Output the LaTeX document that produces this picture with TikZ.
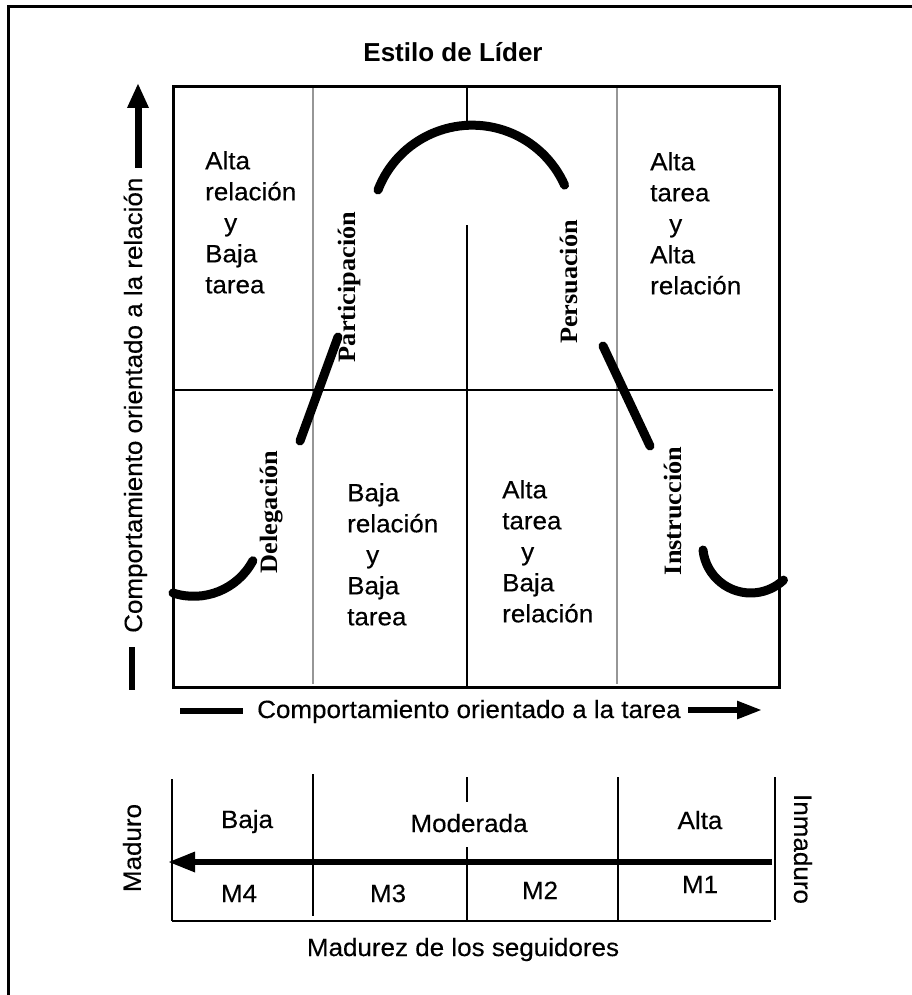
\documentclass[tikz,border=0pt]{standalone}
\usepackage{fontspec}
\usetikzlibrary{arrows.meta}
\newfontfamily\bodyfont[FakeStretch=1.04,FakeBold=0.3]{Liberation Sans}
\newfontfamily\headfont{Liberation Sans}
\newfontfamily\labfont[FakeStretch=1.05]{Liberation Serif}
\tikzset{
  frame/.style={line width=3pt},
  boxline/.style={line width=3pt},
  gridline/.style={line width=2pt},
  grayline/.style={line width=2pt, draw={rgb,255:red,150;green,150;blue,150}},
  curve/.style={line width=9pt, line cap=round},
  axisline/.style={line width=5.5pt},
  body/.style={font=\bodyfont\fontsize{25}{31}\selectfont, inner sep=0pt},
  cell/.style={body, align=left, anchor=north west},
  stylelab/.style={font=\labfont\bfseries\fontsize{25}{28}\selectfont, inner sep=0pt, rotate=90},
}
\begin{document}
\begin{tikzpicture}[x=1pt,y=-1pt]
\useasboundingbox (0,0) rectangle (912,995);
% outer frame
\draw[frame] (912,7) -- (8,7) -- (8,995);
% title
\node[font=\headfont\bfseries\fontsize{26}{30}\selectfont, inner sep=0pt, anchor=base] (title) at (453,62) {Estilo de Líder};
% main grid
\draw[grayline] (313,87) -- (313,684);
\draw[grayline] (617,87) -- (617,684);
\draw[gridline] (467,87) -- (467,125);
\draw[gridline] (467,225) -- (467,687);
\draw[gridline] (172,390) -- (773,390);
\draw[boxline] (173,87) rectangle (779,687);
% cell texts
\node[cell] (tl) at (205,151) {Alta\\relación\\\hspace*{19pt}y\\Baja\\tarea};
\node[cell] (tr) at (650,152) {Alta\\tarea\\\hspace*{19pt}y\\Alta\\relación};
\node[cell] (bl) at (347,483) {Baja\\relación\\\hspace*{19pt}y\\Baja\\tarea};
\node[cell] (br) at (502,480) {Alta\\tarea\\\hspace*{19pt}y\\Baja\\relación};
% style labels
\node[stylelab] (part) at (349,287) {Participación};
\node[stylelab] (pers) at (569,282) {Persuación};
\node[stylelab] (dele) at (272,512) {Delegación};
\node[stylelab] (inst) at (673,511) {Instrucción};
% curve pieces
\draw[curve] (173,593) arc[start angle=108, end angle=28, radius=67];
\draw[curve] (300,441) -- (338,337);
\draw[curve] (378,190) arc[start angle=201, end angle=336, radius=101];
\draw[curve] (603,346) -- (650,446);
\draw[curve] (703,550) arc[start angle=174, end angle=47, radius=48];
% vertical axis
\node[body, rotate=90, anchor=base west] (yax) at (142,633) {Comportamiento orientado a la relación};
\coordinate (ytip) at (138,83);
\coordinate (ystart) at (138,168);
\draw[line width=7pt, -{Triangle[length=25pt,width=20pt]}] (ystart) -- (ytip);
\coordinate (yd1) at (132,647);
\coordinate (yd2) at (132,690);
\draw[axisline] (yd1) -- (yd2);
% horizontal axis
\node[body, anchor=base west] (xax) at (257,718) {Comportamiento orientado a la tarea};
\coordinate (xd1) at (180,711);
\coordinate (xd2) at (243,711);
\draw[axisline] (xd1) -- (xd2);
\coordinate (xstart) at (688,710);
\coordinate (xtip) at (762,710);
\draw[axisline, -{Triangle[length=25pt,width=17pt]}] (xstart) -- (xtip);
% lower table
\draw[gridline] (172,779) -- (172,921);
\draw[gridline] (313,774) -- (313,916);
\draw[gridline] (467,777) -- (467,802);
\draw[gridline] (467,847) -- (467,920);
\draw[gridline] (618,777) -- (618,920);
\draw[gridline] (775,777) -- (775,920);
\draw[line width=2.5pt] (172,921) -- (771,921);
\coordinate (mstart) at (772,862);
\coordinate (mtip) at (168,862);
\draw[line width=6pt, -{Triangle[length=27pt,width=19pt]}] (mstart) -- (mtip);
\node[body, anchor=base] (baja) at (247,828) {Baja};
\node[body, anchor=base] (mod) at (469,832) {Moderada};
\node[body, anchor=base] (alta) at (700,829) {Alta};
\node[body, anchor=base] (m4) at (239,902) {M4};
\node[body, anchor=base] (m3) at (388,902) {M3};
\node[body, anchor=base] (m2) at (540,899) {M2};
\node[body, anchor=base] (m1) at (700,893) {M1};
\node[body, rotate=90] (mad) at (132,848) {Maduro};
\node[body, rotate=-90] (inm) at (803,849) {Inmaduro};
\node[body, anchor=base] (madz) at (463,956) {Madurez de los seguidores};
\end{tikzpicture}
\end{document}
